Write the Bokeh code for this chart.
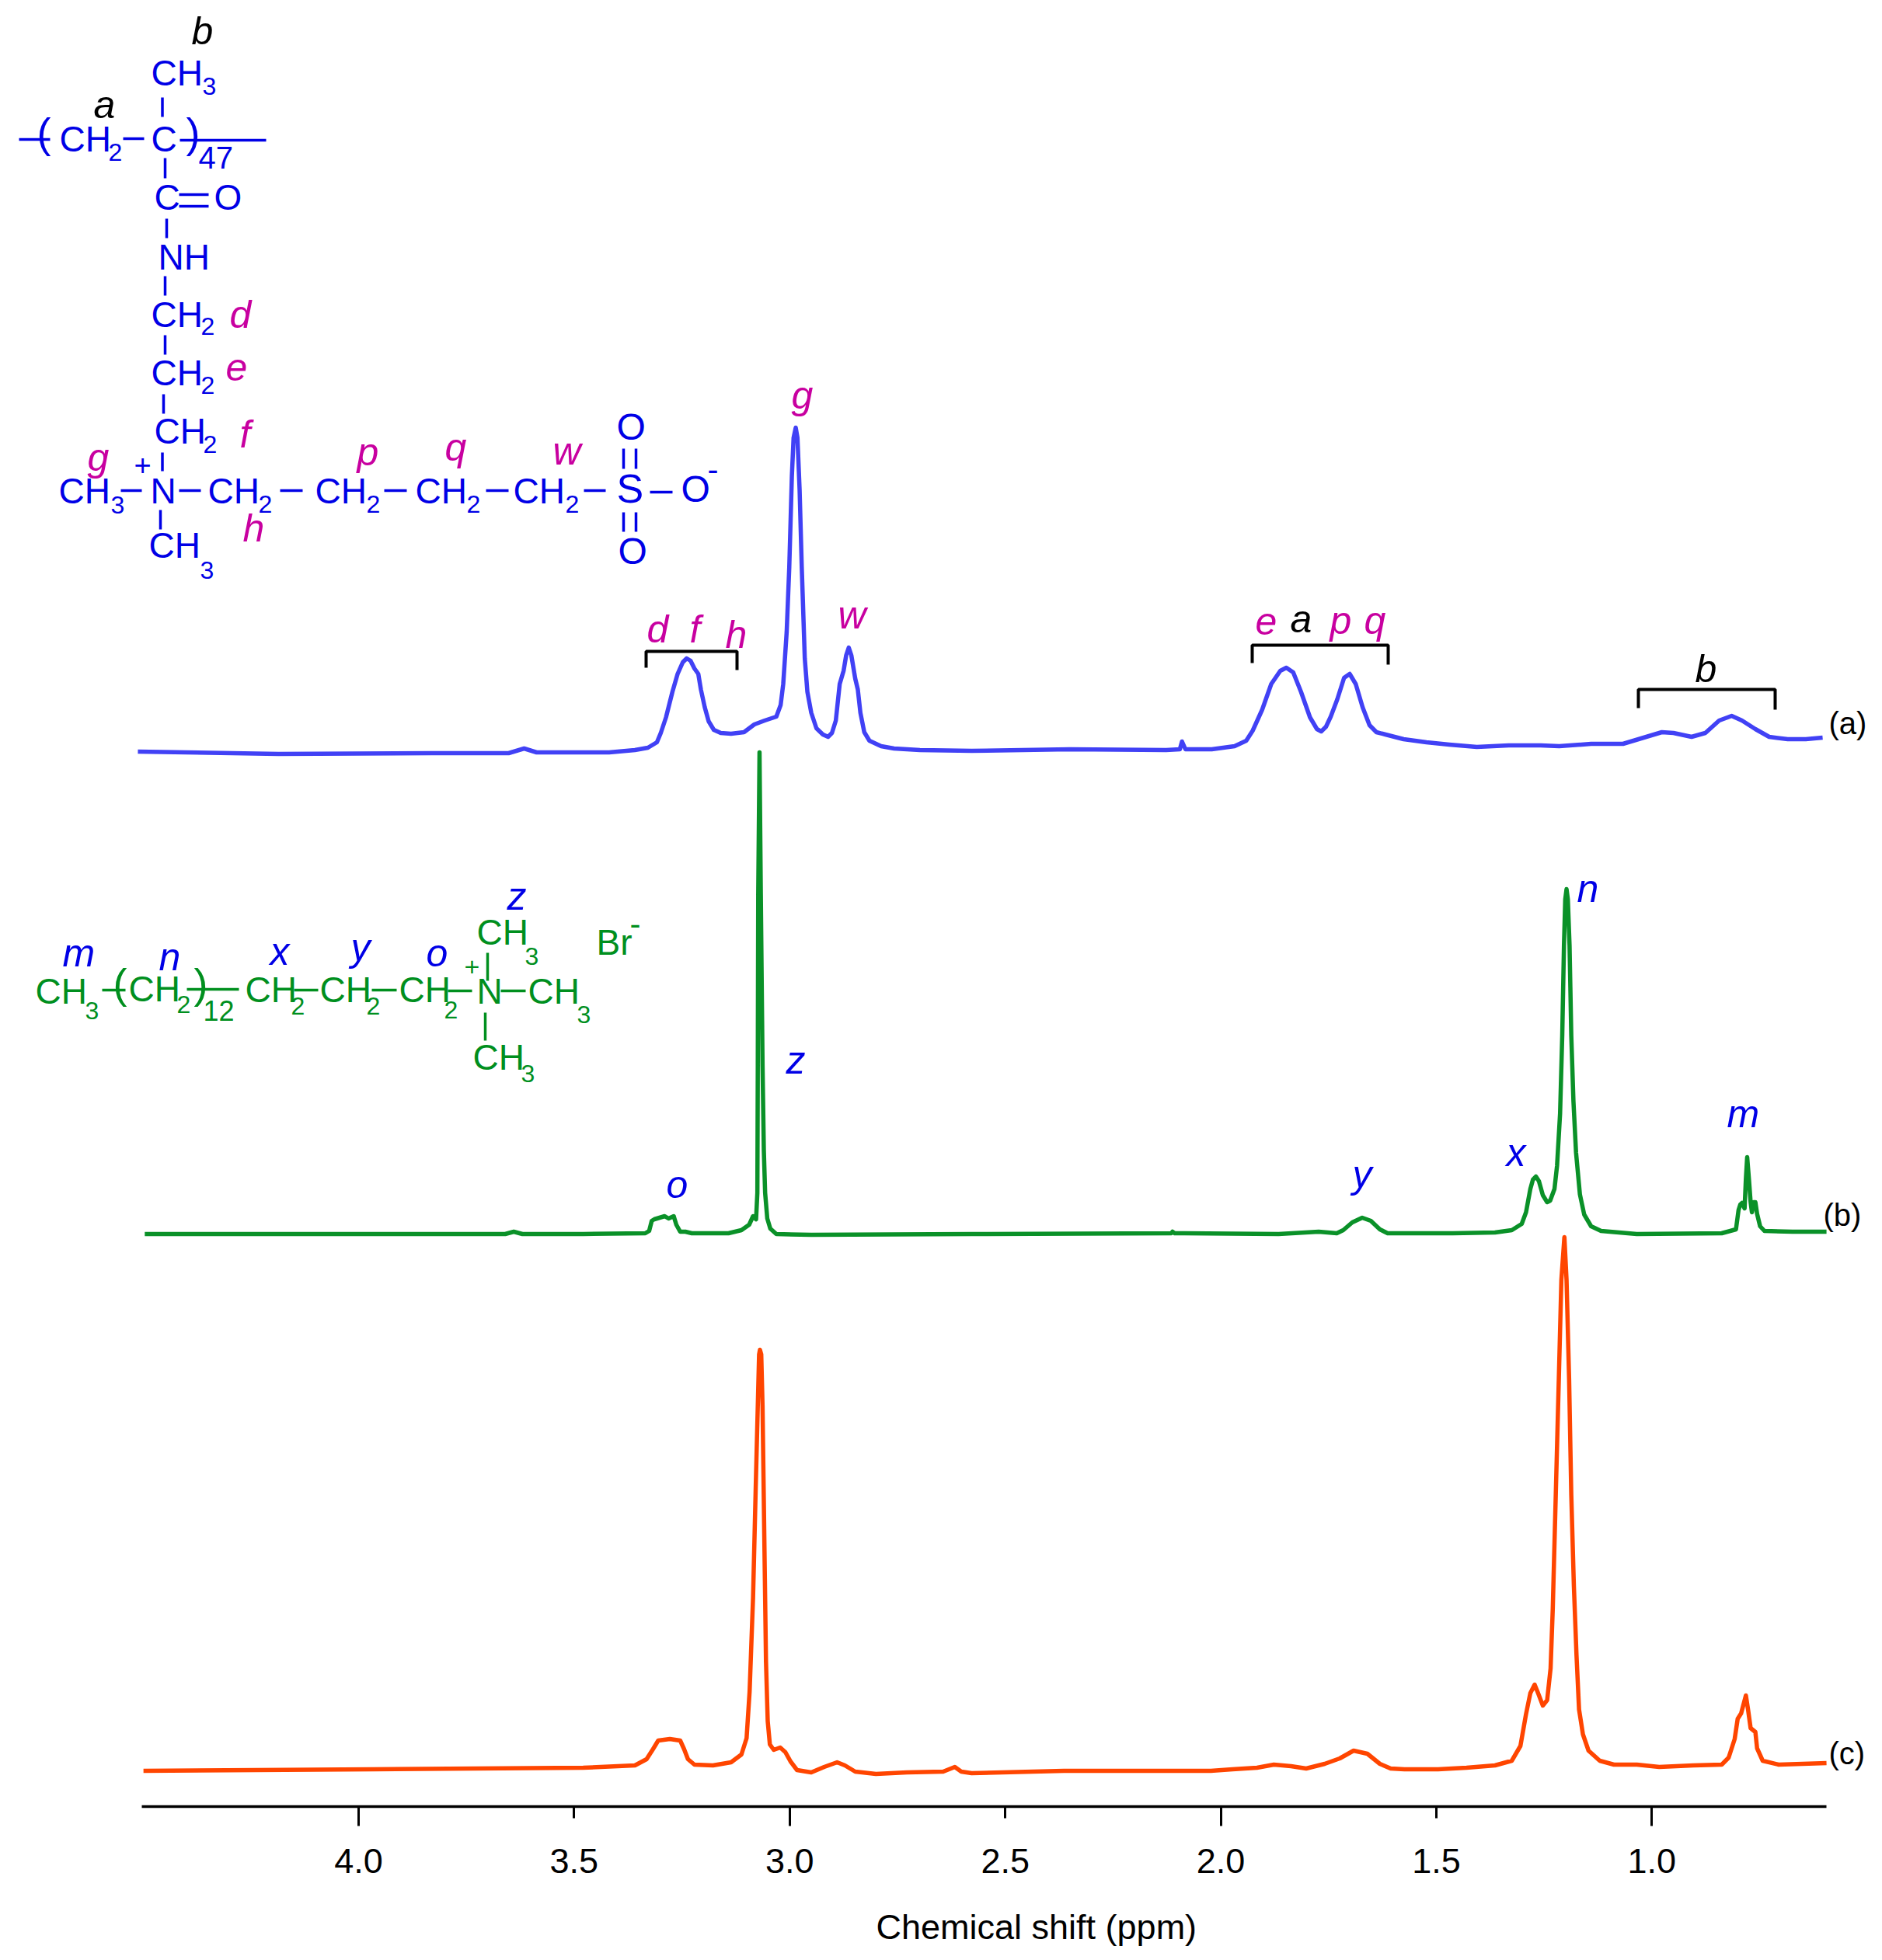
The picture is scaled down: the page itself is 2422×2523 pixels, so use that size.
from bokeh.plotting import figure
from bokeh.models import Range1d, LinearAxis, FixedTicker, ColumnDataSource, PrintfTickFormatter
from bokeh.core.properties import value
from bokeh.embed import file_html
from bokeh.resources import INLINE

# ---------- spectrum values (chemical shift in ppm, intensity in arbitrary units) ----------
ppm_a = [4.512,4.186,3.830,3.652,3.616,3.587,3.479,3.419,3.359,3.329,3.308,3.299,3.287,3.272,3.260,3.248,3.239,3.230,3.221,3.212,3.206,3.197,3.188,3.176,3.160,3.136,3.106,3.082,3.058,3.031,3.021,3.015,3.007,3.001,2.995,2.991,2.986,2.982,2.977,2.972,2.965,2.959,2.950,2.938,2.923,2.911,2.902,2.893,2.884,2.875,2.869,2.863,2.857,2.848,2.842,2.836,2.827,2.815,2.788,2.758,2.698,2.578,2.350,2.127,2.095,2.090,2.082,2.021,1.968,1.941,1.926,1.904,1.883,1.862,1.848,1.832,1.814,1.793,1.777,1.767,1.756,1.745,1.730,1.714,1.701,1.687,1.671,1.655,1.639,1.618,1.576,1.523,1.470,1.406,1.332,1.258,1.215,1.141,1.067,1.025,0.977,0.950,0.908,0.876,0.844,0.815,0.791,0.760,0.728,0.685,0.643,0.604]
int_a = [3,0,1,1,7,2,2,2,5,8,15,27,47,80,103,118,123,120,110,103,83,60,42,31,27,26,28,38,43,48,63,90,157,240,357,407,420,407,340,240,123,80,53,33,25,22,27,43,90,107,127,137,127,97,83,53,28,17,10,7,5,4,6,5,6,16,6,6,10,17,30,57,90,107,111,105,80,47,32,29,35,48,70,98,103,90,60,37,28,25,19,15,12,9,11,11,10,13,13,20,28,27,22,27,43,49,43,32,22,19,19,21]

ppm_b = [4.496,3.660,3.640,3.620,3.479,3.335,3.326,3.320,3.314,3.302,3.290,3.281,3.269,3.263,3.254,3.242,3.227,3.142,3.112,3.094,3.085,3.078,3.075,3.074,3.073,3.070,3.067,3.063,3.060,3.057,3.052,3.045,3.031,2.950,2.578,2.115,2.112,2.107,1.866,1.773,1.731,1.716,1.695,1.672,1.652,1.631,1.613,1.462,1.364,1.325,1.302,1.292,1.282,1.276,1.269,1.262,1.253,1.243,1.236,1.226,1.220,1.213,1.208,1.204,1.201,1.198,1.195,1.191,1.187,1.182,1.176,1.167,1.157,1.141,1.118,1.035,0.838,0.805,0.799,0.795,0.791,0.785,0.782,0.779,0.775,0.771,0.768,0.764,0.760,0.756,0.749,0.739,0.674,0.595]
int_b = [0,0,3,0,0,1,4,17,19,21,23,20,23,12,3,3,1,1,5,12,23,19,53,218,437,620,437,218,108,53,20,7,0,-1,0,1,3,1,0,3,1,5,15,21,17,6,1,1,2,5,13,28,58,70,74,68,50,41,43,58,88,155,255,371,431,444,431,371,255,171,105,51,25,10,4,0,1,6,31,38,40,33,71,99,71,41,28,41,41,26,10,4,3,3]

ppm_c = [4.499,3.969,3.479,3.359,3.332,3.317,3.305,3.278,3.254,3.245,3.236,3.221,3.178,3.136,3.112,3.100,3.093,3.085,3.079,3.071,3.069,3.066,3.063,3.059,3.055,3.051,3.046,3.037,3.022,3.010,2.998,2.983,2.950,2.920,2.890,2.872,2.848,2.800,2.728,2.644,2.617,2.602,2.578,2.364,2.151,2.023,1.973,1.916,1.877,1.837,1.802,1.759,1.724,1.692,1.660,1.631,1.606,1.574,1.496,1.430,1.364,1.325,1.305,1.292,1.282,1.272,1.264,1.253,1.243,1.235,1.230,1.223,1.216,1.210,1.203,1.198,1.192,1.187,1.181,1.175,1.169,1.160,1.147,1.121,1.088,1.035,0.983,0.904,0.838,0.822,0.808,0.801,0.793,0.782,0.777,0.771,0.760,0.756,0.743,0.706,0.595]
int_c = [-4,-2,0,3,11,24,35,37,35,24,11,4,3,7,17,38,98,219,356,532,538,532,466,301,137,60,30,23,26,20,8,-3,-6,1,7,3,-5,-8,-6,-5,1,-5,-7,-4,-4,-4,-2,0,4,2,-1,5,12,22,18,5,-1,-2,-2,0,3,9,28,69,96,107,96,80,87,128,204,351,499,628,683,628,499,351,234,146,75,43,22,9,4,4,1,3,4,13,37,63,70,93,75,51,46,25,9,4,6]

tick_values = [4.0, 3.5, 3.0, 2.5, 2.0, 1.5, 1.0]
integer_ticks = [4.0, 3.0, 2.0, 1.0]
x_label = "Chemical shift (ppm)"

# ---------- layout ----------
W, H = 2406, 2507
PX_L, PX_R, PY_T, PY_B = 0, W, 0, H
PPM_AT_PX0, PPM_PER_PX = 4.8309, 1 / 554.8
def ppm_at(px):
    return PPM_AT_PX0 - px * PPM_PER_PX
OFFSET_A, OFFSET_B, OFFSET_C = PY_B - 970, PY_B - 1588, PY_B - 2275
AXIS_Y = PY_B - 2325
AXIS_BOUNDS = (ppm_at(2350), ppm_at(182))
BASELINE_SHIFT = 0.37  # em, from the renderer's placement of alphabetic text

BLUE, GREEN, MAG, BLK = "#0000E6", "#008F1E", "#C800A0", "#000000"
FONT = "Liberation Sans"
S, SUB, IT = 46, 32, 50

# (text, left px, baseline px, size, colour)
upright = [
    ("CH",194,111,S,BLUE),("3",260,122,SUB,BLUE),
    ("(",47,190,54,BLUE),("CH",76,196,S,BLUE),("2",139,207,SUB,BLUE),("C",194,196,S,BLUE),(")",239,190,54,BLUE),("47",255,217,40,BLUE),
    ("C",198,271,S,BLUE),("O",275,271,S,BLUE),("NH",203,348,S,BLUE),
    ("CH",194,422,S,BLUE),("2",258,431,SUB,BLUE),("CH",194,497,S,BLUE),("2",258,507,SUB,BLUE),("CH",198,572,S,BLUE),("2",261,583,SUB,BLUE),
    ("+",172,612,38,BLUE),
    ("CH",75,649,S,BLUE),("3",142,661,SUB,BLUE),("N",193,649,S,BLUE),
    ("CH",267,649,S,BLUE),("2",332,660,SUB,BLUE),("CH",405,649,S,BLUE),("2",471,660,SUB,BLUE),("CH",534,649,S,BLUE),("2",600,660,SUB,BLUE),("CH",660,649,S,BLUE),("2",727,660,SUB,BLUE),
    ("S",793,648,52,BLUE),("O",793,567,48,BLUE),("O",795,727,48,BLUE),("O",876,647,48,BLUE),("-",910,620,42,BLUE),
    ("CH",191,719,S,BLUE),("3",257,745,SUB,BLUE),
    ("CH",45,1293,S,GREEN),("3",109,1312,SUB,GREEN),("(",145,1285,54,GREEN),("CH",165,1290,S,GREEN),("2",227,1304,SUB,GREEN),(")",249,1285,54,GREEN),("12",261,1314,SUB+4,GREEN),
    ("CH",315,1291,S,GREEN),("2",374,1306,SUB,GREEN),("CH",411,1291,S,GREEN),("2",471,1306,SUB,GREEN),("CH",513,1291,S,GREEN),("2",571,1311,SUB,GREEN),
    ("+",597,1257,34,GREEN),("N",613,1293,S,GREEN),("CH",613,1217,S,GREEN),("3",675,1242,SUB,GREEN),("CH",679,1293,S,GREEN),("3",742,1317,SUB,GREEN),("CH",608,1378,S,GREEN),("3",670,1393,SUB,GREEN),
    ("Br",767,1230,S,GREEN),("-",810,1205,42,GREEN),
    ("(a)",2353,945,40,BLK),("(b)",2346,1578,40,BLK),("(c)",2353,2271,40,BLK),
    (x_label,1127,2497,45,BLK),
]
italic = [
    ("b",246,58,IT,BLK),("a",120,153,IT,BLK),
    ("d",295,423,IT,MAG),("e",290,490,IT,MAG),("f",308,577,IT,MAG),("g",112,607,IT,MAG),("h",312,698,IT,MAG),("p",459,600,IT,MAG),("q",572,594,IT,MAG),("w",711,599,IT,MAG),
    ("g",1018,527,IT,MAG),("d",832,828,IT,MAG),("f",887,828,IT,MAG),("h",933,835,IT,MAG),("w",1078,810,IT,MAG),
    ("e",1615,817,IT,MAG),("a",1660,815,IT,BLK),("p",1711,817,IT,MAG),("q",1755,817,IT,MAG),("b",2181,879,IT,BLK),
    ("n",2029,1162,IT,BLUE),("x",1938,1502,IT,BLUE),("m",2222,1452,IT,BLUE),("z",1011,1383,IT,BLUE),("y",1740,1530,IT,BLUE),("o",857,1543,IT,BLUE),
    ("m",80,1245,IT,BLUE),("n",204,1250,IT,BLUE),("x",347,1243,IT,BLUE),("y",451,1238,IT,BLUE),("o",548,1245,IT,BLUE),("z",652,1172,IT,BLUE),
]
# bond strokes: (x0, y0, x1, y1)
bonds_blue = [
    (208.5,125,208.5,150),(24,179,64,179),(158,178,185,178),(231,180,342,180),(212,203,212,229),
    (230,250,268,250),(230,265,268,265),(214,281,214,306),(212,355,212,380),(212,431,212,456),(210,507,210,532),(208.5,582,208.5,606),
    (155,631,182,631),(230,631,258,631),(360,631,389,631),(494,631,523,631),(625,631,654,631),(751,631,779,631),(836,633,865,633),
    (802,577,802,603),(818,577,818,603),(802,659,802,684),(818,659,818,684),(206,656,206,681),
]
bonds_green = [
    (131,1274,161,1274),(240,1273,307,1273),(378,1274,409,1274),(478,1274,510,1274),(576,1275,607,1275),
    (627,1226,627,1262),(644,1275,676,1275),(624,1303,624,1339),
]
brackets = [
    ([831,831,948,948],[859,838,838,862]),
    ([1611,1611,1786,1786],[853,830,830,855]),
    ([2108,2108,2284,2284],[911,887,887,913]),
]

# ---------- figure ----------
p = figure(width=W, height=H, output_backend="svg", toolbar_location=None,
           x_range=Range1d(ppm_at(PX_L), ppm_at(PX_R)), y_range=Range1d(0, H),
           x_axis_type=None, y_axis_type=None, min_border=0, outline_line_color=None)
p.grid.visible = False
p.extra_x_ranges = {"px": Range1d(PX_L, PX_R)}
p.extra_y_ranges = {"py": Range1d(PY_B, PY_T)}

for xs, ys, off, col in [(ppm_a, int_a, OFFSET_A, "#4141F5"),
                         (ppm_b, int_b, OFFSET_B, "#0A9128"),
                         (ppm_c, int_c, OFFSET_C, "#FF4500")]:
    p.line(xs, [v + off for v in ys], line_color=col, line_width=5.5, line_join="round")

def put_text(rows, style):
    src = ColumnDataSource(dict(t=[r[0] for r in rows], x=[r[1] for r in rows],
                                y=[r[2] - BASELINE_SHIFT * r[3] for r in rows],
                                s=[f"{r[3]}px" for r in rows], c=[r[4] for r in rows]))
    p.text("x", "y", text="t", source=src, text_font=value(FONT), text_font_size="s", text_color="c",
           text_font_style=style, text_align="left", text_baseline="alphabetic",
           x_range_name="px", y_range_name="py")
put_text(upright, "normal")
put_text(italic, "italic")

for bonds, col in [(bonds_blue, BLUE), (bonds_green, GREEN)]:
    p.segment([b[0] for b in bonds], [b[1] for b in bonds], [b[2] for b in bonds], [b[3] for b in bonds],
              line_color=col, line_width=3.5, x_range_name="px", y_range_name="py")
p.multi_line([b[0] for b in brackets], [b[1] for b in brackets], line_color="#000000", line_width=4,
             x_range_name="px", y_range_name="py")

# ---------- axes ----------
ax = LinearAxis(fixed_location=AXIS_Y, bounds=AXIS_BOUNDS, ticker=FixedTicker(ticks=tick_values, minor_ticks=[]),
                formatter=PrintfTickFormatter(format="%.1f"))
ax.axis_line_color = "#000000"; ax.axis_line_width = 3.5
ax.major_tick_line_color = "#000000"; ax.major_tick_line_width = 3
ax.major_tick_in = 0; ax.major_tick_out = 15
ax.minor_tick_line_color = None
ax.major_label_text_font = FONT; ax.major_label_text_font_size = "45px"; ax.major_label_text_color = "#000000"
ax.major_label_standoff = 39
p.add_layout(ax, "below")

ax2 = LinearAxis(fixed_location=AXIS_Y, bounds=AXIS_BOUNDS, ticker=FixedTicker(ticks=integer_ticks, minor_ticks=[]))
ax2.axis_line_color = None
ax2.major_tick_line_color = "#000000"; ax2.major_tick_line_width = 3
ax2.major_tick_in = 0; ax2.major_tick_out = 25
ax2.minor_tick_line_color = None; ax2.major_label_text_color = None; ax2.major_label_text_font_size = "1px"
p.add_layout(ax2, "below")

open("out.html", "w").write(file_html(p, INLINE))
